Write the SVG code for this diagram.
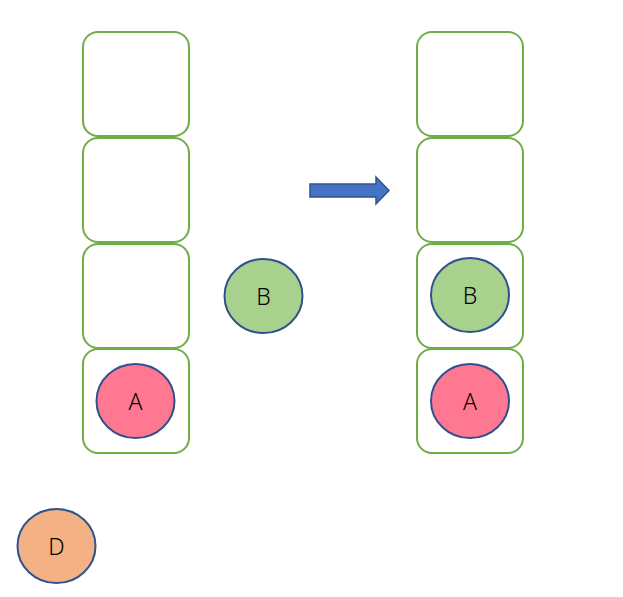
<svg xmlns="http://www.w3.org/2000/svg" width="623" height="597" viewBox="0 0 623 597">
<style>
.box{fill:#fff;stroke:#70AD47;stroke-width:2}
.c{stroke:#2F528F;stroke-width:2}
.t{font-family:"Noto Sans","DejaVu Sans",sans-serif;font-size:23px;font-weight:300;fill:#000;text-anchor:middle;dominant-baseline:central}
</style>
<rect width="623" height="597" fill="#fff"/>
<g id="left-stack">
<rect class="box" x="83" y="32" width="106" height="104" rx="15"/>
<rect class="box" x="83" y="138" width="106" height="104" rx="15"/>
<rect class="box" x="83" y="244" width="106" height="104" rx="15"/>
<rect class="box" x="83" y="349" width="106" height="104" rx="15"/>
</g>
<g id="right-stack">
<rect class="box" x="417" y="32" width="106" height="104" rx="15"/>
<rect class="box" x="417" y="138" width="106" height="104" rx="15"/>
<rect class="box" x="417" y="244" width="106" height="104" rx="15"/>
<rect class="box" x="417" y="349" width="106" height="104" rx="15"/>
</g>
<g id="nodeA-left"><ellipse class="c" cx="135.5" cy="401" rx="39" ry="37" fill="#FF7891"/><text class="t" x="135.5" y="401">A</text></g>
<g id="nodeB-free"><ellipse class="c" cx="263.5" cy="296" rx="39" ry="37" fill="#A9D18E"/><text class="t" x="263.5" y="296">B</text></g>
<g id="nodeB-right"><ellipse class="c" cx="470" cy="295" rx="39" ry="37" fill="#A9D18E"/><text class="t" x="470" y="295">B</text></g>
<g id="nodeA-right"><ellipse class="c" cx="470" cy="401" rx="39" ry="37" fill="#FF7891"/><text class="t" x="470" y="401">A</text></g>
<g id="nodeD"><ellipse class="c" cx="56.5" cy="546" rx="39" ry="37" fill="#F4B183"/><text class="t" x="56.5" y="546">D</text></g>
<g id="connectors">
<polygon points="310,184 376,184 376,177 389,190.5 376,204 376,197 310,197" fill="#4472C4" stroke="#2F528F" stroke-width="1.5"/>
</g>
</svg>
